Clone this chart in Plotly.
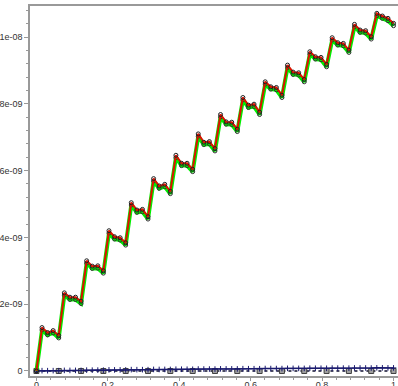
import plotly.graph_objects as go

# x positions: 65 samples on [0, 1]
x_vals = [k / 64 for k in range(65)]

# red series (units of 1e-9)
red_vals = [0.00,
            1.30, 1.15, 1.21, 1.06,
            2.34, 2.21, 2.21, 2.09,
            3.30, 3.14, 3.15, 3.00,
            4.20, 4.02, 3.99, 3.84,
            5.04, 4.82, 4.84, 4.62,
            5.76, 5.54, 5.59, 5.38,
            6.46, 6.22, 6.22, 6.04,
            7.10, 6.85, 6.87, 6.66,
            7.68, 7.46, 7.45, 7.24,
            8.19, 7.96, 7.99, 7.75,
            8.66, 8.51, 8.49, 8.26,
            9.16, 8.95, 8.93, 8.73,
            9.56, 9.41, 9.39, 9.18,
            9.98, 9.83, 9.81, 9.61,
            10.38, 10.21, 10.19, 10.01,
            10.71, 10.63, 10.56, 10.41]

# green series (units of 1e-9)
green_vals = [0.00,
              1.23, 1.08, 1.14, 0.99,
              2.27, 2.14, 2.14, 2.02,
              3.23, 3.07, 3.08, 2.93,
              4.13, 3.95, 3.92, 3.77,
              4.97, 4.75, 4.77, 4.55,
              5.69, 5.47, 5.52, 5.31,
              6.39, 6.15, 6.15, 5.97,
              7.03, 6.78, 6.80, 6.59,
              7.61, 7.39, 7.38, 7.17,
              8.12, 7.89, 7.92, 7.68,
              8.59, 8.44, 8.42, 8.19,
              9.09, 8.88, 8.86, 8.66,
              9.49, 9.34, 9.32, 9.11,
              9.91, 9.76, 9.74, 9.54,
              10.31, 10.14, 10.12, 9.94,
              10.64, 10.56, 10.49, 10.34]

# navy series (units of 1e-9)
navy_vals = [0.000,
             0.010, 0.009, 0.010, 0.009,
             0.018, 0.017, 0.018, 0.017,
             0.026, 0.025, 0.026, 0.025,
             0.034, 0.033, 0.033, 0.032,
             0.041, 0.040, 0.040, 0.039,
             0.047, 0.046, 0.047, 0.046,
             0.053, 0.052, 0.052, 0.051,
             0.059, 0.058, 0.058, 0.057,
             0.064, 0.063, 0.063, 0.062,
             0.069, 0.068, 0.068, 0.067,
             0.074, 0.073, 0.073, 0.072,
             0.079, 0.078, 0.078, 0.077,
             0.083, 0.082, 0.082, 0.081,
             0.087, 0.086, 0.086, 0.085,
             0.091, 0.090, 0.090, 0.089,
             0.095, 0.094, 0.094, 0.093]

# dotted baseline series (units of 1e-9)
base_vals = [0.0] * 65

y_tick_vals = [0, 2e-9, 4e-9, 6e-9, 8e-9, 1e-8]
y_tick_text = ["0", "2e-09", "4e-09", "6e-09", "8e-09", "1e-08"]
x_tick_vals = [0, 0.2, 0.4, 0.6, 0.8, 1]
x_tick_text = ["0", "0.2", "0.4", "0.6", "0.8", "1"]

S = 1e-9
fig = go.Figure()

fig.add_trace(go.Scatter(
    x=x_vals, y=[v * S for v in base_vals], mode="lines",
    line=dict(color="#101030", width=1.5, dash="dot"), hoverinfo="skip"))
fig.add_trace(go.Scatter(
    x=x_vals[::4], y=[v * S for v in base_vals[::4]], mode="markers",
    marker=dict(symbol="square", size=5, color="#a0a0a0",
                line=dict(color="#404040", width=1)), hoverinfo="skip"))
fig.add_trace(go.Scatter(
    x=x_vals, y=[v * S for v in navy_vals], mode="lines+markers",
    line=dict(color="#1a1a6e", width=1.5),
    marker=dict(symbol="cross-thin", size=4, line=dict(color="#1a1a6e", width=1)),
    hoverinfo="skip"))
fig.add_trace(go.Scatter(
    x=x_vals, y=[v * S for v in green_vals], mode="lines+markers",
    line=dict(color="#00ee00", width=4),
    marker=dict(symbol="circle-open", size=4, color="#303030", line=dict(width=1)),
    hoverinfo="skip"))
fig.add_trace(go.Scatter(
    x=x_vals, y=[v * S for v in red_vals], mode="lines+markers",
    line=dict(color="#dd1100", width=2),
    marker=dict(symbol="circle-open", size=4, color="#202020", line=dict(width=1)),
    hoverinfo="skip"))

axis_font = dict(family="Liberation Sans, Arial, sans-serif", size=9, color="#333333")

fig.update_layout(
    width=398, height=386,
    margin=dict(l=30, r=0, t=6, b=10, pad=0),
    paper_bgcolor="white", plot_bgcolor="white",
    showlegend=False,
    xaxis=dict(
        range=[-0.018, 1.0125], showgrid=False, zeroline=False, automargin=False,
        showline=True, linecolor="#999999", linewidth=1.5, mirror=True,
        ticks="outside", ticklen=3, tickcolor="#999999", tickwidth=1,
        tickvals=x_tick_vals, ticktext=x_tick_text, tickfont=axis_font,
        ticklabelstandoff=-4,
        minor=dict(dtick=0.04, ticks="outside", ticklen=2, tickcolor="#999999", showgrid=False),
    ),
    yaxis=dict(
        range=[-0.15e-9, 10.93e-9], showgrid=False, zeroline=False, automargin=False,
        showline=True, linecolor="#999999", linewidth=1.5,
        ticks="outside", ticklen=4, tickcolor="#999999", tickwidth=1,
        tickvals=y_tick_vals, ticktext=y_tick_text, tickfont=axis_font,
        minor=dict(dtick=0.4e-9, ticks="outside", ticklen=2, tickcolor="#999999", showgrid=False),
    ),
)

fig.write_html("out.html", config={"displayModeBar": False},
               post_script="document.body.style.margin='0px';")
